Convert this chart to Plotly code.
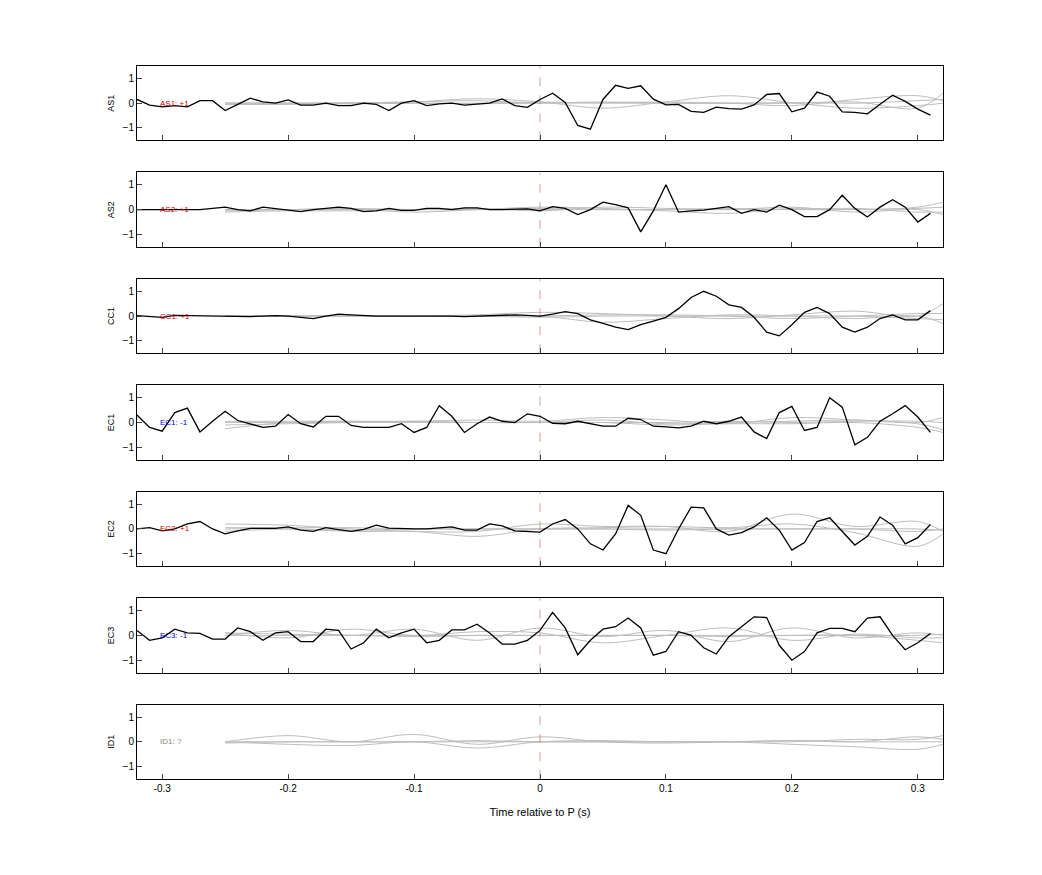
import plotly.graph_objects as go
from plotly.subplots import make_subplots

t_black = [round(-0.32 + 0.01 * i, 2) for i in range(64)]
t_gray = [-0.25, -0.20, -0.15, -0.10, -0.05, 0.00, 0.05, 0.10, 0.15, 0.20, 0.25, 0.30, 0.32]

channels = ["AS1", "AS2", "CC1", "EC1", "EC2", "EC3", "ID1"]
labels = ["AS1: +1", "AS2: +1", "CC1: +1", "EC1: -1", "EC2: +1", "EC3: -1", "ID1: ?"]
label_colors = ["#d00000", "#d00000", "#d00000", "#0000d0", "#d00000", "#0000d0", "#888888"]

AS1 = [0.15, -0.08, -0.15, -0.1, -0.15, 0.1, 0.1, -0.3, -0.05, 0.2, 0.05, 0.0, 0.13, -0.08, -0.08, 0.0,
       -0.1, -0.1, 0.0, -0.05, -0.3, 0.0, 0.1, -0.1, -0.03, 0.0, -0.08, -0.05, 0.0, 0.17, -0.1, -0.17,
       0.15, 0.4, 0.03, -0.9, -1.05, 0.15, 0.72, 0.6, 0.7, 0.16, -0.07, -0.05, -0.33, -0.37, -0.16, -0.22,
       -0.24, -0.07, 0.35, 0.39, -0.35, -0.2, 0.45, 0.28, -0.35, -0.37, -0.43, -0.04, 0.32, 0.07, -0.24, -0.48]
AS2 = [0.0, 0.0, 0.0, 0.0, -0.02, 0.0, 0.05, 0.1, 0.0, -0.05, 0.1, 0.05, 0.0, -0.08, 0.0, 0.06,
       0.1, 0.05, -0.08, -0.05, 0.05, -0.03, -0.03, 0.05, 0.05, 0.0, 0.07, 0.07, 0.0, 0.0, 0.0, 0.03,
       -0.05, 0.12, 0.05, -0.2, 0.0, 0.3, 0.2, 0.07, -0.9, -0.05, 1.0, -0.1, -0.05, -0.02, 0.05, 0.12,
       -0.15, 0.0, -0.1, 0.18, 0.0, -0.28, -0.28, 0.0, 0.58, 0.05, -0.3, 0.1, 0.4, 0.1, -0.5, -0.15]
CC1 = [0.02, -0.03, -0.05, 0.03, 0.02, 0.01, 0.0, 0.0, 0.0, -0.02, 0.0, 0.02, 0.0, -0.05, -0.1, 0.0,
       0.08, 0.05, 0.02, 0.0, 0.0, 0.0, 0.03, 0.02, 0.0, 0.0, -0.02, 0.0, 0.02, 0.03, 0.05, 0.03,
       0.0, 0.08, 0.18, 0.1, -0.15, -0.3, -0.45, -0.55, -0.35, -0.2, -0.05, 0.3, 0.75, 1.0, 0.8, 0.45,
       0.35, -0.05, -0.65, -0.8, -0.35, 0.15, 0.35, 0.1, -0.45, -0.65, -0.45, -0.1, 0.05, -0.15, -0.15, 0.22]
EC1 = [0.3, -0.2, -0.35, 0.4, 0.58, -0.38, 0.05, 0.45, 0.08, -0.05, -0.2, -0.15, 0.32, -0.05, -0.18, 0.25,
       0.25, -0.12, -0.2, -0.2, -0.2, -0.05, -0.4, -0.2, 0.68, 0.25, -0.4, -0.05, 0.22, 0.05, 0.0, 0.35,
       0.25, -0.03, -0.05, 0.05, -0.05, -0.15, -0.15, 0.17, 0.12, -0.15, -0.18, -0.22, -0.15, 0.05, -0.05, 0.05,
       0.22, -0.38, -0.65, 0.4, 0.65, -0.32, -0.2, 1.0, 0.62, -0.9, -0.6, 0.05, 0.35, 0.68, 0.22, -0.4]
EC2 = [0.0, 0.05, -0.08, 0.0, 0.2, 0.3, 0.0, -0.2, -0.08, 0.02, 0.02, 0.02, 0.08, -0.05, -0.1, 0.05,
       -0.03, -0.1, -0.02, 0.15, 0.03, 0.0, 0.0, 0.0, 0.05, 0.08, -0.05, -0.05, 0.2, 0.12, -0.08, -0.12,
       -0.13, 0.2, 0.38, 0.0, -0.6, -0.85, -0.2, 0.95, 0.55, -0.85, -1.0, 0.0, 0.88, 0.85, 0.0, -0.25,
       -0.15, 0.08, 0.45, -0.05, -0.85, -0.55, 0.3, 0.45, -0.1, -0.65, -0.3, 0.48, 0.15, -0.6, -0.35, 0.18]
EC3 = [0.2, -0.2, -0.1, 0.25, 0.1, 0.08, -0.15, -0.15, 0.3, 0.15, -0.2, 0.1, 0.15, -0.25, -0.25, 0.25,
       0.2, -0.55, -0.3, 0.25, -0.1, 0.1, 0.25, -0.3, -0.2, 0.22, 0.22, 0.45, 0.1, -0.35, -0.35, -0.2,
       0.2, 0.93, 0.3, -0.78, -0.2, 0.25, 0.35, 0.7, 0.3, -0.8, -0.65, 0.15, 0.0, -0.5, -0.75, -0.05,
       0.35, 0.75, 0.72, -0.4, -1.0, -0.65, 0.1, 0.28, 0.28, 0.15, 0.7, 0.75, 0.0, -0.58, -0.3, 0.08]
black_series = [AS1, AS2, CC1, EC1, EC2, EC3, None]

gray_series = [
    [[0.0, 0.0, 0.02, 0.05, 0.18, 0.05, -0.2, 0.05, 0.3, 0.02, -0.2, -0.1, 0.0],
     [-0.05, -0.05, 0.0, 0.0, -0.02, 0.0, 0.05, 0.0, 0.0, -0.1, 0.15, 0.3, 0.1],
     [0.0, 0.0, 0.0, 0.05, 0.1, 0.0, 0.02, 0.05, 0.0, 0.0, 0.05, -0.2, 0.4],
     [0.0, 0.0, -0.03, 0.0, 0.0, 0.05, 0.0, 0.0, 0.0, 0.02, 0.0, 0.1, 0.15]],
    [[-0.05, 0.0, 0.02, -0.1, 0.0, 0.1, 0.05, -0.05, -0.15, 0.05, 0.0, 0.1, 0.3],
     [-0.1, -0.05, -0.05, 0.0, 0.05, -0.05, 0.1, 0.05, 0.0, 0.1, -0.1, 0.0, -0.2],
     [0.0, 0.0, 0.0, 0.0, 0.0, 0.0, 0.0, 0.0, 0.05, 0.0, 0.0, 0.05, 0.1],
     [0.0, 0.0, 0.05, 0.0, 0.0, 0.05, 0.0, 0.0, 0.0, 0.0, 0.05, -0.1, -0.1]],
    [[0.0, 0.0, 0.0, 0.0, 0.05, 0.15, 0.1, 0.0, -0.1, 0.05, 0.2, 0.0, 0.5],
     [0.0, 0.0, 0.0, 0.0, 0.0, 0.0, -0.25, -0.1, 0.05, 0.0, -0.1, 0.0, -0.3],
     [0.0, 0.0, 0.02, 0.0, 0.0, 0.0, 0.05, 0.05, 0.0, -0.1, 0.0, 0.1, 0.1],
     [0.0, 0.0, 0.0, 0.0, 0.0, -0.05, 0.0, 0.0, 0.0, 0.0, 0.0, -0.1, -0.15]],
    [[-0.25, 0.0, 0.05, 0.05, 0.1, 0.05, 0.2, 0.1, -0.05, 0.2, 0.1, -0.05, -0.3],
     [-0.1, -0.05, 0.0, 0.05, 0.0, 0.0, 0.1, -0.05, 0.0, 0.05, 0.1, 0.0, 0.2],
     [0.0, 0.0, 0.0, 0.0, 0.0, 0.0, 0.0, -0.1, -0.05, -0.05, 0.0, -0.2, -0.4],
     [0.05, 0.05, 0.05, 0.0, 0.0, 0.0, 0.0, 0.0, 0.05, 0.0, 0.05, 0.05, 0.0]],
    [[0.2, 0.15, 0.0, -0.1, -0.1, 0.2, 0.1, 0.1, -0.1, 0.6, 0.1, 0.3, -0.1],
     [0.0, 0.0, -0.1, -0.1, -0.3, 0.0, 0.05, 0.1, 0.05, 0.2, -0.15, -0.7, -0.2],
     [-0.1, 0.0, -0.05, 0.0, 0.0, 0.0, 0.0, 0.0, 0.0, 0.0, 0.0, 0.0, -0.05],
     [0.05, 0.05, 0.05, 0.0, 0.0, 0.0, 0.0, -0.05, 0.0, 0.0, 0.0, -0.1, 0.0]],
    [[0.0, 0.2, 0.0, 0.25, -0.2, 0.3, -0.05, 0.2, -0.25, 0.3, -0.1, 0.1, 0.0],
     [0.1, -0.1, 0.25, 0.0, 0.15, 0.1, -0.3, 0.0, 0.3, -0.2, 0.05, -0.1, -0.1],
     [0.0, 0.0, 0.0, 0.0, 0.0, 0.0, 0.0, 0.0, 0.0, 0.0, 0.0, 0.0, 0.05],
     [0.1, 0.05, 0.0, -0.05, 0.0, 0.0, 0.0, 0.0, -0.05, 0.0, 0.0, -0.2, -0.3]],
    [[0.0, 0.25, 0.0, 0.3, -0.1, 0.2, 0.0, -0.05, 0.0, 0.05, 0.0, 0.2, 0.1],
     [0.0, -0.1, -0.15, 0.0, -0.25, 0.0, 0.05, 0.0, 0.0, -0.1, -0.2, -0.3, -0.1],
     [0.0, 0.0, 0.0, 0.0, 0.05, 0.0, 0.0, 0.0, 0.0, 0.05, 0.0, 0.0, 0.0],
     [-0.05, 0.0, 0.0, 0.0, 0.0, 0.0, 0.0, 0.0, 0.0, 0.0, 0.1, 0.1, 0.25]],
]

x_ticks = [-0.3, -0.2, -0.1, 0.0, 0.1, 0.2, 0.3]
x_tick_text = ["-0.3", "-0.2", "-0.1", "0", "0.1", "0.2", "0.3"]
y_ticks = [-1, 0, 1]

n = len(channels)
fig = make_subplots(rows=n, cols=1, shared_xaxes=False, vertical_spacing=0.045)

for i in range(n):
    r = i + 1
    for g in gray_series[i]:
        fig.add_trace(go.Scatter(x=t_gray, y=g, mode="lines", line=dict(color="#bdbdbd", width=1, shape="spline"),
                                 showlegend=False, hoverinfo="skip"), row=r, col=1)
    fig.add_trace(go.Scatter(x=[0, 0], y=[-1.5, 1.5], mode="lines",
                             line=dict(color="rgba(190,120,120,0.7)", width=1, dash="dash"),
                             showlegend=False, hoverinfo="skip"), row=r, col=1)
    if black_series[i] is not None:
        fig.add_trace(go.Scatter(x=t_black, y=black_series[i], mode="lines", line=dict(color="black", width=1.3),
                                 showlegend=False), row=r, col=1)
    xa = "x" if r == 1 else f"x{r}"
    ya = "y" if r == 1 else f"y{r}"
    fig.add_annotation(x=-0.303, y=0, xref=xa, yref=ya, text=labels[i], showarrow=False, xanchor="left",
                       font=dict(size=8, color=label_colors[i], family="Liberation Sans"))
    fig.update_xaxes(range=[-0.32, 0.32], tickvals=x_ticks, ticktext=x_tick_text, ticks="inside", ticklen=5,
                     showticklabels=(r == n), showline=True, mirror=True, linecolor="black", linewidth=1,
                     showgrid=False, zeroline=False, row=r, col=1)
    fig.update_yaxes(range=[-1.5, 1.5], tickvals=y_ticks, ticks="inside", ticklen=5,
                     showline=True, mirror=True, linecolor="black", linewidth=1, showgrid=False, zeroline=False,
                     title=dict(text=channels[i], font=dict(size=9), standoff=6), row=r, col=1)

fig.update_xaxes(title=dict(text="Time relative to P (s)", font=dict(size=11)), row=n, col=1)
fig.update_layout(width=1042, height=875, plot_bgcolor="white", paper_bgcolor="white",
                  margin=dict(l=129, r=107, t=58, b=104),
                  font=dict(family="Liberation Sans", size=10, color="black"))
fig.write_html("out.html")
